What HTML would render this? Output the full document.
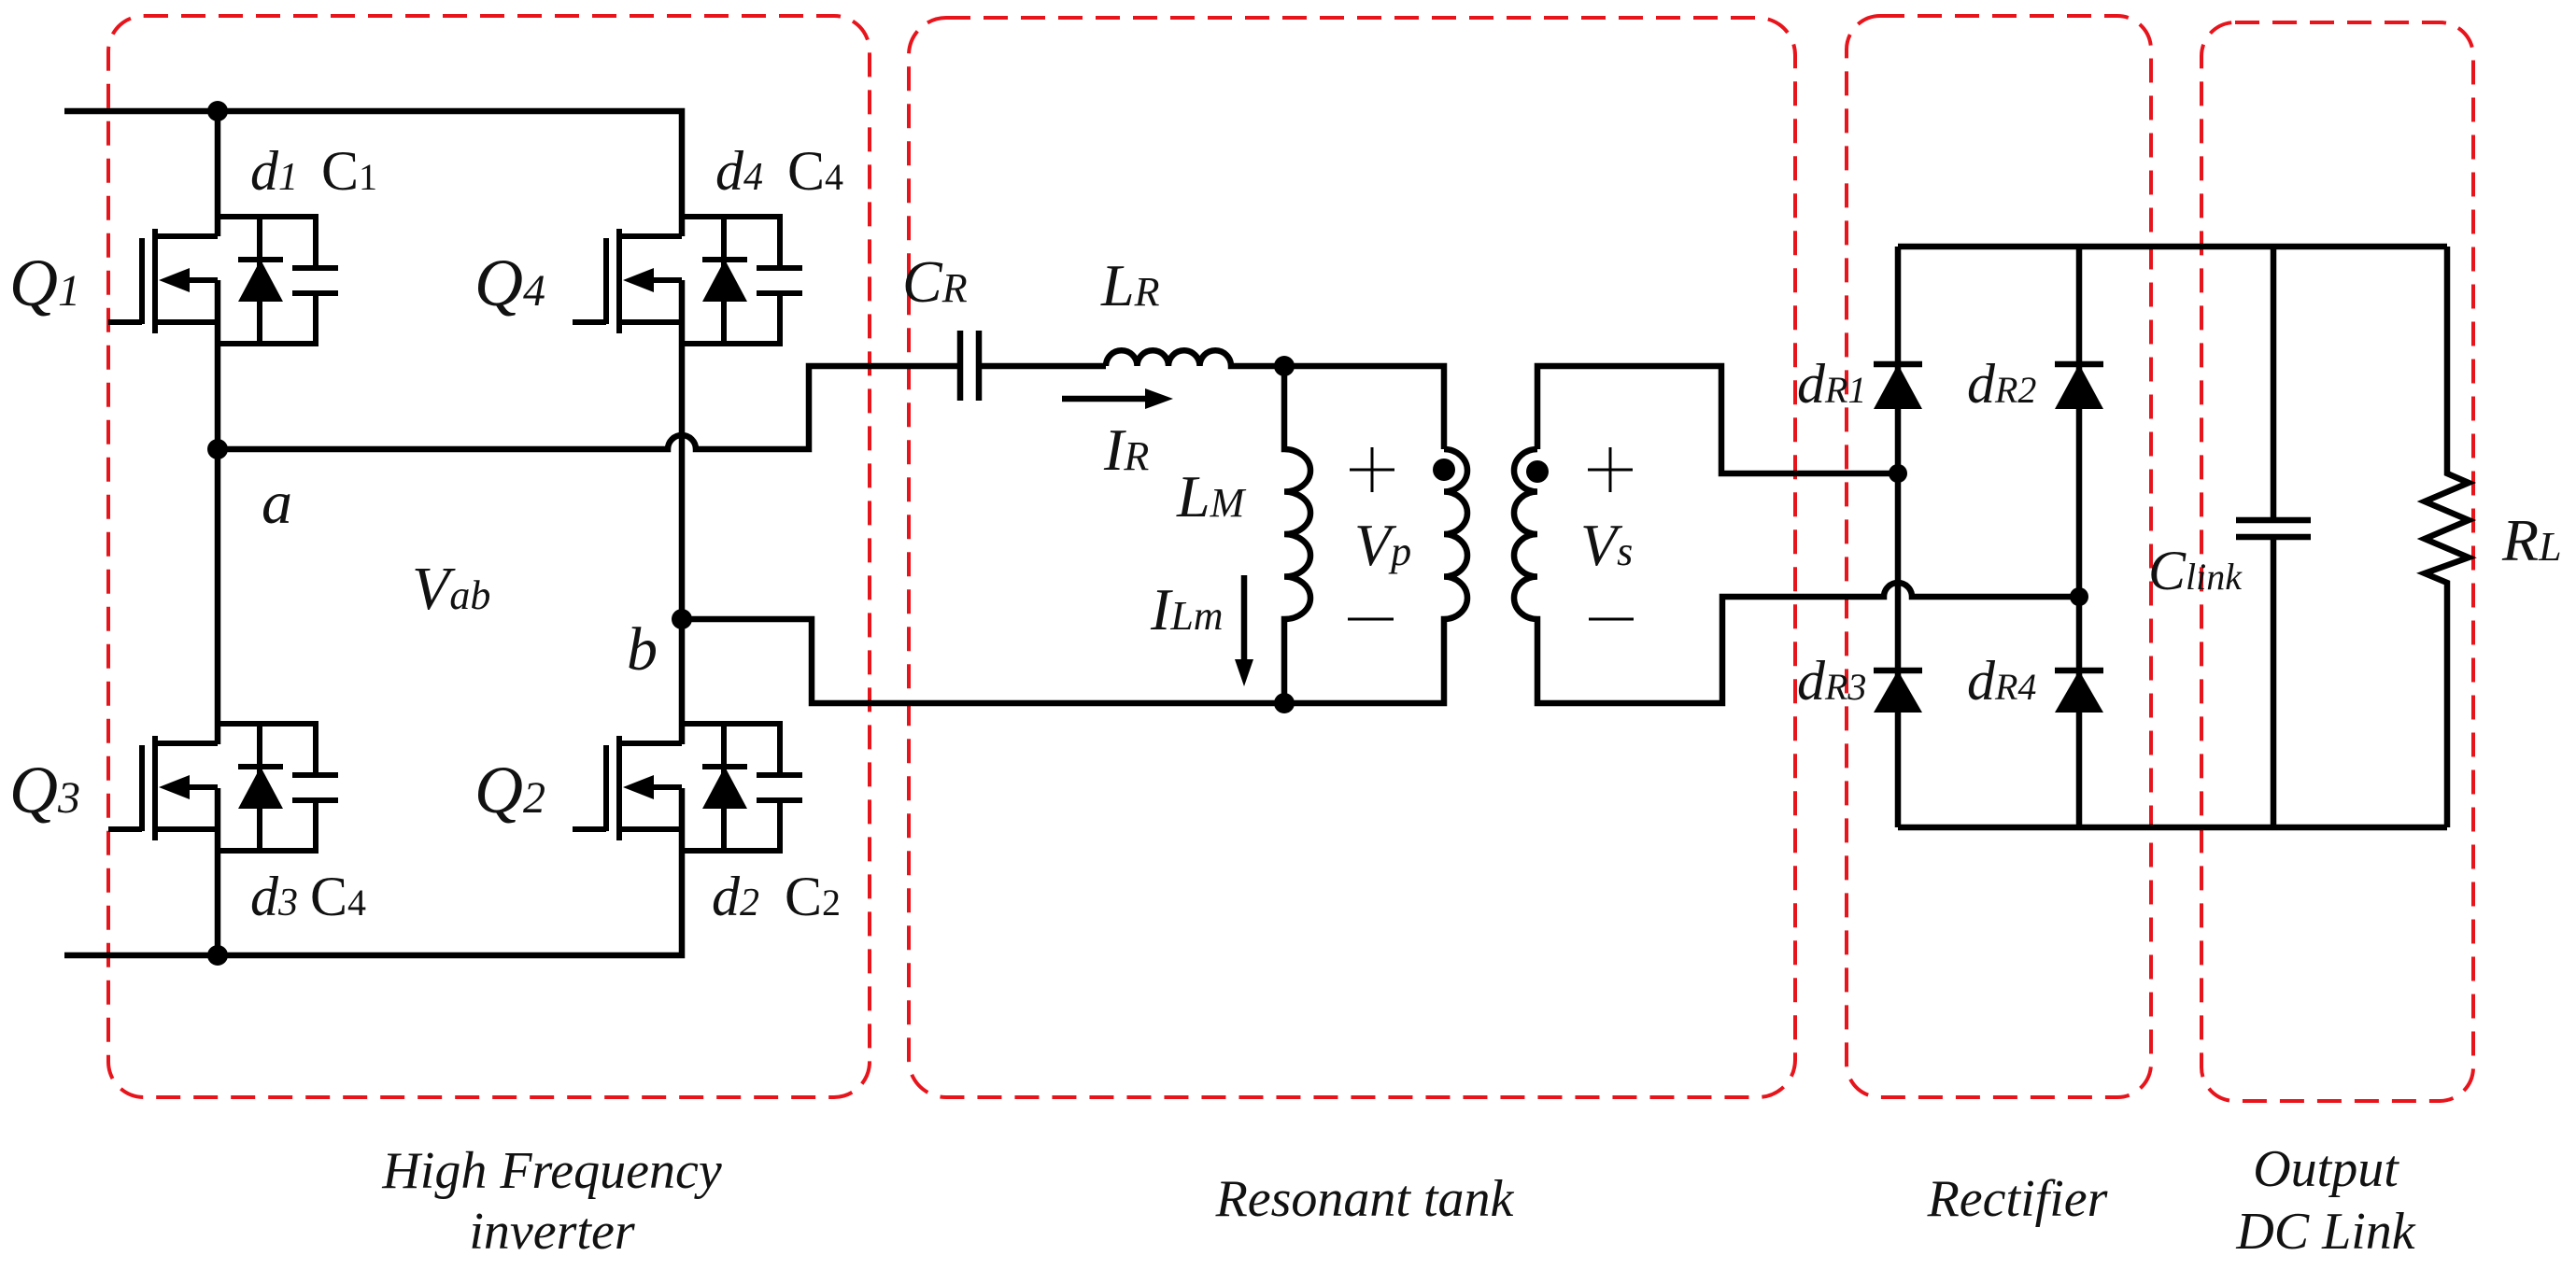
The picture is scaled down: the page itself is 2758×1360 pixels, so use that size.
<!DOCTYPE html>
<html><head><meta charset="utf-8"><style>
html,body{margin:0;padding:0;background:#fff}
svg{display:block}
text{font-family:"Liberation Serif",serif;font-style:italic;fill:#111}
.s{font-style:normal}
</style></head><body>
<svg width="2758" height="1360" viewBox="0 0 2758 1360" xmlns="http://www.w3.org/2000/svg">
<defs>
<g id="sw" stroke="#000" stroke-width="6" fill="none">
  <path d="M0 0 H105 V55 M80 55 H129 M80 82 H129 M105 82 V136 H0"/>
  <path d="M45 0 V136 M22 46 H70"/>
  <polygon points="22,91 70,91 46,46" fill="#000" stroke="none"/>
  <path d="M0 21 H-67 M-67 13 V125 M0 68 H-30 M-67 113 H0 M-81 23 V115 M-117 113 H-81"/>
  <polygon points="-63,68 -30,55 -30,81" fill="#000" stroke="none"/>
</g>
</defs>

<g stroke="#e8141c" stroke-width="4" fill="none" stroke-dasharray="26 14">
  <rect x="116" y="17" width="815" height="1158" rx="38"/>
  <rect x="973" y="19" width="949" height="1156" rx="40"/>
  <rect x="1977" y="17" width="326" height="1158" rx="36"/>
  <rect x="2357" y="24" width="291" height="1155" rx="36"/>
</g>

<g stroke="#000" stroke-width="6.5" fill="none">
  <path d="M69 119 H730 V253 M730 300 V797 M730 844 V1023 H69"/>
  <path d="M233 119 V253 M233 300 V797 M233 844 V1023"/>
  <path d="M233 481 H715 A15 15 0 0 1 745 481 H866 V392 H1028"/>
  <path d="M730 663 H869 V753 H1375"/>
  <path d="M1028 354 V429 M1048 354 V429 M1048 392 H1184"/>
  <path d="M1184 392 a16.75 16.75 0 0 1 33.5 0 a16.75 16.75 0 0 1 33.5 0 a16.75 16.75 0 0 1 33.5 0 a16.75 16.75 0 0 1 33.5 0 H1546 V481"/>
  <path d="M1375 392 V481 a28 22.75 0 0 1 0 45.5 a28 22.75 0 0 1 0 45.5 a28 22.75 0 0 1 0 45.5 a28 22.75 0 0 1 0 45.5 V753"/>
  <path d="M1546 481 a25 22.75 0 0 1 0 45.5 a25 22.75 0 0 1 0 45.5 a25 22.75 0 0 1 0 45.5 a25 22.75 0 0 1 0 45.5 V753 H1375"/>
  <path d="M1646 481 a25 22.75 0 0 0 0 45.5 a25 22.75 0 0 0 0 45.5 a25 22.75 0 0 0 0 45.5 a25 22.75 0 0 0 0 45.5 V753 H1844 V639 H2017 A15 15 0 0 1 2047 639 H2226"/>
  <path d="M1646 481 V392 H1843 V507 H2032"/>
  <path d="M1137 427 H1230"/>
  <path d="M1332 616 V708"/>
  <path d="M1445 503 H1493 M1469 479 V527 M1443 663 H1492" stroke-width="3"/>
  <path d="M1700 503 H1748 M1724 479 V527 M1701 663 H1749" stroke-width="3"/>
  <path d="M2032 264 V886 M2226 264 V886 M2032 264 H2620 M2032 886 H2620"/>
  <path d="M2006 390 H2058 M2200 390 H2252 M2006 718 H2058 M2200 718 H2252"/>
  <path d="M2434 264 V557 M2394 557 H2474 M2394 575 H2474 M2434 575 V886"/>
  <path d="M2620 264 V507 L2643 517 L2596 537 L2643 557 L2596 577 L2643 597 L2596 614 L2620 624 V886"/>
</g>
<g fill="#000">
  <polygon points="2006,438 2058,438 2032,390"/>
  <polygon points="2200,438 2252,438 2226,390"/>
  <polygon points="2006,763 2058,763 2032,718"/>
  <polygon points="2200,763 2252,763 2226,718"/>
  <polygon points="1256,427 1226,416 1226,438"/>
  <polygon points="1332,735 1322,706 1342,706"/>
  <circle cx="233" cy="119" r="11"/>
  <circle cx="233" cy="481" r="11"/>
  <circle cx="233" cy="1023" r="11"/>
  <circle cx="730" cy="663" r="11"/>
  <circle cx="1375" cy="392" r="11"/>
  <circle cx="1375" cy="753" r="11"/>
  <circle cx="2032" cy="507" r="10"/>
  <circle cx="2226" cy="639" r="10"/>
  <circle cx="1546" cy="503" r="12"/>
  <circle cx="1646" cy="505" r="12"/>
</g>

<use href="#sw" transform="translate(233,232)"/>
<use href="#sw" transform="translate(730,232)"/>
<use href="#sw" transform="translate(233,775)"/>
<use href="#sw" transform="translate(730,775)"/>

<g font-size="72">
<text x="10" y="327">Q<tspan font-size="48">1</tspan></text>
<text x="508" y="327">Q<tspan font-size="48">4</tspan></text>
<text x="10" y="870">Q<tspan font-size="48">3</tspan></text>
<text x="508" y="870">Q<tspan font-size="48">2</tspan></text>
</g>
<g font-size="60">
<text x="268" y="203">d<tspan font-size="42">1</tspan></text>
<text x="344" y="203" class="s">C<tspan font-size="40">1</tspan></text>
<text x="766" y="203">d<tspan font-size="42">4</tspan></text>
<text x="843" y="203" class="s">C<tspan font-size="40">4</tspan></text>
<text x="268" y="980">d<tspan font-size="42">3</tspan></text>
<text x="332" y="980" class="s">C<tspan font-size="40">4</tspan></text>
<text x="762" y="980">d<tspan font-size="42">2</tspan></text>
<text x="840" y="980" class="s">C<tspan font-size="40">2</tspan></text>
<text x="280" y="560" font-size="66">a</text>
<text x="441" y="652" font-size="66">V<tspan font-size="44">ab</tspan></text>
<text x="671" y="717" font-size="66">b</text>
<text x="966" y="323" font-size="64">C<tspan font-size="44">R</tspan></text>
<text x="1179" y="327" font-size="64">L<tspan font-size="44">R</tspan></text>
<text x="1182" y="503" font-size="64">I<tspan font-size="44">R</tspan></text>
<text x="1260" y="553" font-size="64">L<tspan font-size="44">M</tspan></text>
<text x="1232" y="674" font-size="64">I<tspan font-size="44">Lm</tspan></text>
<text x="1450" y="605" font-size="64">V<tspan font-size="44">p</tspan></text>
<text x="1692" y="605" font-size="64">V<tspan font-size="44">s</tspan></text>
<text x="1924" y="431">d<tspan font-size="40">R1</tspan></text>
<text x="2106" y="431">d<tspan font-size="40">R2</tspan></text>
<text x="1924" y="749">d<tspan font-size="40">R3</tspan></text>
<text x="2106" y="749">d<tspan font-size="40">R4</tspan></text>
<text x="2300" y="631">C<tspan font-size="40">link</tspan></text>
<text x="2679" y="600" font-size="64">R<tspan font-size="44">L</tspan></text>
</g>
<g font-size="56" text-anchor="middle">
<text x="591" y="1272">High Frequency</text>
<text x="591" y="1337">inverter</text>
<text x="1461" y="1302">Resonant tank</text>
<text x="2160" y="1302">Rectifier</text>
<text x="2490" y="1270">Output</text>
<text x="2490" y="1337">DC Link</text>
</g>
</svg>
</body></html>
